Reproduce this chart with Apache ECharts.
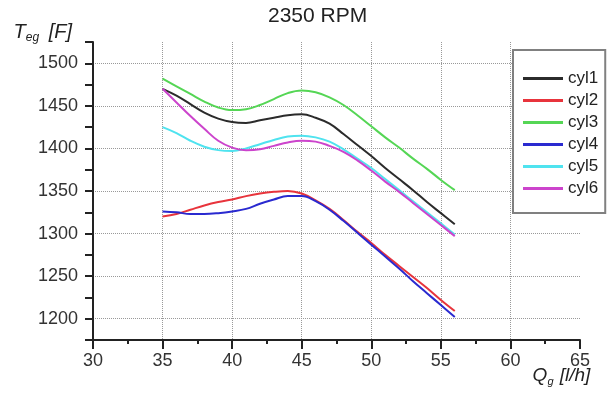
<!DOCTYPE html>
<html>
<head>
<meta charset="utf-8">
<script src="https://cdn.jsdelivr.net/npm/echarts@6/dist/echarts.min.js"></script>
<style>
    html, body { margin: 0; padding: 0; background: #fff; }
    #chart { width: 609px; height: 405px; }
</style>
</head>
<body>
<div id="chart"></div>
<script>
// fuel flow Q_g [l/h]
const flow = [35, 36, 37, 38, 39, 40, 41, 42, 43, 44, 45, 46, 47, 48, 49, 50, 51, 52, 53, 54, 55, 56]

// exhaust gas temperature per cylinder [F]
const cyl1 = [1470, 1462, 1452, 1442, 1435, 1431, 1430, 1433, 1436, 1439, 1440, 1436, 1429, 1417, 1404, 1391, 1377, 1364, 1351, 1337, 1324, 1311]
const cyl2 = [1320, 1323, 1328, 1333, 1337, 1340, 1344, 1347, 1349, 1350, 1347, 1339, 1329, 1316, 1302, 1289, 1275, 1262, 1249, 1236, 1222, 1209]
const cyl3 = [1482, 1473, 1464, 1455, 1448, 1445, 1446, 1451, 1458, 1465, 1468, 1466, 1460, 1451, 1439, 1426, 1413, 1401, 1388, 1376, 1363, 1351]
const cyl4 = [1326, 1325, 1323, 1323, 1324, 1326, 1329, 1335, 1340, 1344, 1344, 1338, 1328, 1315, 1301, 1287, 1273, 1259, 1244, 1230, 1216, 1202]
const cyl5 = [1425, 1418, 1409, 1402, 1398, 1397, 1400, 1405, 1410, 1414, 1415, 1413, 1408, 1399, 1388, 1377, 1364, 1351, 1338, 1325, 1312, 1299]
const cyl6 = [1470, 1454, 1438, 1423, 1409, 1401, 1398, 1399, 1403, 1407, 1409, 1408, 1403, 1396, 1386, 1374, 1361, 1349, 1336, 1323, 1310, 1297]

const names = ['cyl1', 'cyl2', 'cyl3', 'cyl4', 'cyl5', 'cyl6']
const colors = ['#2b2b2b', '#e8343c', '#55d655', '#2a2ad0', '#4fe3ef', '#cc44cc']
const values = [cyl1, cyl2, cyl3, cyl4, cyl5, cyl6]

const FONT = 'Liberation Sans, Arial, sans-serif'

const chart = echarts.init(document.getElementById('chart'))

const series = names.map((name, i) => ({
    name: name,
    type: 'line',
    smooth: 0.4,
    symbol: 'none',
    color: colors[i],
    lineStyle: { width: 2, color: colors[i] },
    data: flow.map((x, j) => [x, values[i][j]])
}))

chart.setOption({
    animation: false,
    backgroundColor: '#fff',
    title: {
        text: '2350 RPM',
        left: 268,
        top: 6,
        padding: 0,
        textStyle: { fontFamily: FONT, fontSize: 21, fontWeight: 'normal', color: '#222' }
    },
    legend: {
        orient: 'vertical',
        left: 513,
        top: 50,
        padding: [20, 7, 16, 10],
        icon: 'rect',
        itemWidth: 40,
        itemHeight: 3,
        itemGap: 5,
        borderColor: '#808080',
        borderWidth: 2,
        backgroundColor: '#fff',
        data: names,
        textStyle: { fontFamily: FONT, fontSize: 17, color: '#222' }
    },
    grid: { left: 93, right: 29, top: 42, bottom: 65 },
    xAxis: {
        type: 'value',
        min: 30,
        max: 65,
        interval: 5,
        name: '{a|Q}{b|g}{a| [l/h]}',
        nameLocation: 'middle',
        nameGap: 24,
        nameMoveOverlap: false,
        nameTextStyle: {
            align: 'center',
            verticalAlign: 'top',
            // push the name out to the right end, under 60..65
            padding: [0, 0, 0, 450],
            rich: {
                a: { fontFamily: FONT, fontSize: 19, fontStyle: 'italic', color: '#222' },
                b: { fontFamily: FONT, fontSize: 11, fontStyle: 'italic', color: '#222', padding: [12, 1, 0, 0] }
            }
        },
        axisLine: { lineStyle: { color: '#222', width: 2 } },
        axisTick: { length: 9, lineStyle: { width: 2 } },
        minorTick: { show: true, splitNumber: 2, length: 4, lineStyle: { color: '#222', width: 2 } },
        axisLabel: { margin: 12, fontFamily: FONT, fontSize: 18, color: '#333' },
        splitLine: {
            show: true,
            showMaxLine: false,
            lineStyle: { type: 'dotted', color: '#999', width: 1 }
        }
    },
    yAxis: {
        type: 'value',
        min: 1175,
        max: 1525,
        interval: 25,
        name: '{a|T}{b|eg}{a| [F]}',
        nameLocation: 'end',
        nameGap: 10,
        nameTextStyle: {
            align: 'right',
            verticalAlign: 'middle',
            padding: [0, 21, 0, 0],
            rich: {
                a: { fontFamily: FONT, fontSize: 20, fontStyle: 'italic', color: '#222' },
                b: { fontFamily: FONT, fontSize: 12, fontStyle: 'italic', color: '#222', padding: [12, 4, 0, 0] }
            }
        },
        axisLine: { show: true, lineStyle: { color: '#222', width: 2 } },
        axisTick: { show: true, length: 8, lineStyle: { width: 2 } },
        axisLabel: {
            margin: 15,
            fontFamily: FONT,
            fontSize: 18,
            color: '#333',
            formatter: v => (v % 50 === 0 ? String(v) : '')
        },
        splitLine: {
            show: true,
            // only every second tick (the 50s) gets a grid line
            lineStyle: { type: 'dotted', color: ['rgba(0,0,0,0)', '#999'], width: 1 }
        }
    },
    series: series
})
</script>
</body>
</html>
